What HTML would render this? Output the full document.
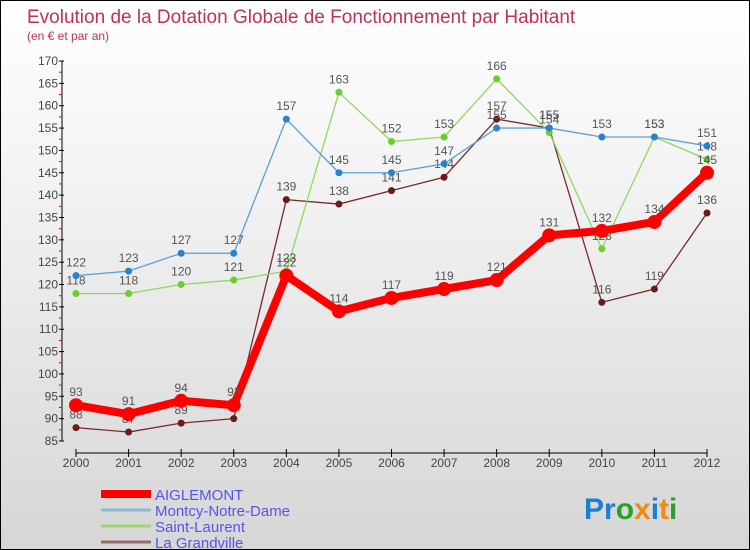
<!DOCTYPE html>
<html><head><meta charset="utf-8"><style>
body{margin:0}
#c{width:748px;height:548px;border:1px solid #000;background:linear-gradient(#ffffff,#f0f0f0 40%,#d6d6d6);position:relative;overflow:hidden;font-family:"Liberation Sans",sans-serif}
</style></head><body>
<div id="c">
<svg id="s" width="748" height="548" style="position:absolute;left:0;top:0">
<text x="26" y="22" font-size="19" fill="#c0305a">Evolution de la Dotation Globale de Fonctionnement par Habitant</text>
<text x="26" y="39" font-size="12" fill="#c0305a">(en € et par an)</text>
<g id="axes"></g><g id="series"></g><g id="legend"></g>
<text x="583" y="518" font-size="30" font-weight="bold"><tspan fill="#1a7fd6">Pr</tspan><tspan fill="#2aa02a">o</tspan><tspan fill="#f08a10">x</tspan><tspan fill="#1a7fd6">i</tspan><tspan fill="#f08a10">t</tspan><tspan fill="#2aa02a">i</tspan></text>
</svg>
</div>
<script>
const years=[2000,2001,2002,2003,2004,2005,2006,2007,2008,2009,2010,2011,2012];
const yTicks=[85,90,95,100,105,110,115,120,125,130,135,140,145,150,155,160,165,170];
const aiglemont=[93,91,94,93,122,114,117,119,121,131,132,134,145];
const montcy=[122,123,127,127,157,145,145,147,155,155,153,153,151];
const saintLaurent=[118,118,120,121,123,163,152,153,166,154,128,153,148];
const laGrandville=[88,87,89,90,139,138,141,144,157,155,116,119,136];
const NS="http://www.w3.org/2000/svg";
function X(i){return 75+i*(706-75)/(years.length-1);}
function Y(v){return 60+(170-v)*(440-60)/85;}
function mk(t,a,p){const e=document.createElementNS(NS,t);for(const k in a)e.setAttribute(k,a[k]);p.appendChild(e);return e;}
const ax=document.getElementById('axes');
let l=mk('line',{x1:61,y1:60,x2:61,y2:440,stroke:'#000'},ax);


l=mk('line',{x1:75,y1:452,x2:706,y2:452,stroke:'#000'},ax);


yTicks.forEach((v,i)=>{
 mk('line',{x1:58,y1:Y(v),x2:63,y2:Y(v),stroke:'#000'},ax);
 if(i<yTicks.length-1)mk('line',{x1:58,y1:Y(v+2.5),x2:61,y2:Y(v+2.5),stroke:'#e00'},ax);
 const t=mk('text',{x:57,y:Y(v)+4,'font-size':12,fill:'#444','text-anchor':'end'},ax);
 t.textContent=v;
 
 
});
years.forEach((y,i)=>{
 mk('line',{x1:X(i),y1:448,x2:X(i),y2:456,stroke:'#000'},ax);
 const t=mk('text',{x:X(i),y:466,'font-size':12,fill:'#444','text-anchor':'middle'},ax);
 t.textContent=y;
 
 
});
const sg=document.getElementById('series');
const defs=[
 {d:laGrandville,c:'#7a2a2a',dot:'#6a1a1a',w:1.3,r:3.5,n:'la-grandville'},
 {d:saintLaurent,c:'#8ed860',dot:'#6ccc30',w:1.3,r:3.5,n:'saint-laurent'},
 {d:montcy,c:'#5aa0d8',dot:'#2a82cc',w:1.3,r:3.5,n:'montcy-notre-dame'},
 {d:aiglemont,c:'#ff0000',dot:'#ff0000',w:8,r:7,n:'aiglemont'}];
defs.forEach(s=>{
 const g=mk('g',{},sg);
 
 
 const p=mk('polyline',{points:s.d.map((v,i)=>X(i)+','+Y(v)).join(' '),fill:'none',stroke:s.c,'stroke-width':s.w,'stroke-linejoin':'round'},g);
 
 
 s.d.forEach((v,i)=>{
  const c=mk('circle',{cx:X(i),cy:Y(v),r:s.r,fill:s.dot},g);
  
  
  const t=mk('text',{x:X(i),y:Y(v)-9,'font-size':12,fill:'#555','text-anchor':'middle'},g);
  t.textContent=v;
  
  
 });
});
const lg=document.getElementById('legend');
[['AIGLEMONT','#ff0000',8],['Montcy-Notre-Dame','#8ab8d8',3],['Saint-Laurent','#9ad870',3],['La Grandville','#9a6a6a',3]].forEach((e,i)=>{
 const y=493+i*16;
 const ln=mk('line',{x1:100,y1:y,x2:150,y2:y,stroke:e[1],'stroke-width':e[2]},lg);
 
 
 const t=mk('text',{x:154,y:y+6,'font-size':15,fill:'#5555ee'},lg);
 t.textContent=e[0];
 
 
});
</script>
</body></html>
